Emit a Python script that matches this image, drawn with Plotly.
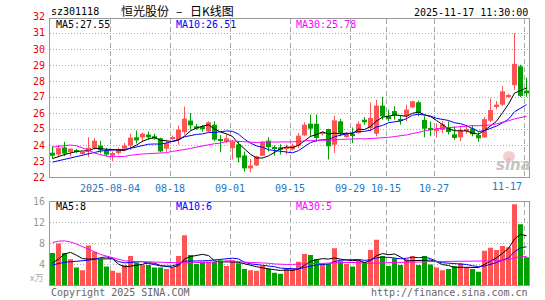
import numpy as np
import pandas as pd
import plotly.graph_objects as go

# ---------------- data ----------------
opens = [23.52, 23.40, 23.85, 23.56, 23.62, 23.48, 23.60, 23.81, 23.96, 23.65,
         23.33, 23.50, 23.77, 23.97, 24.48, 24.47, 24.65, 24.55, 24.42, 23.77,
         24.40, 24.33, 24.81, 25.53, 25.17, 25.17, 24.85, 25.27, 24.35, 24.20,
         23.81, 24.04, 23.35, 22.54, 22.72, 23.33, 24.27, 23.83, 23.85, 23.80,
         23.72, 23.96, 24.60, 25.33, 25.33, 24.71, 25.00, 24.02, 25.48, 24.50,
         24.70, 24.75, 25.58, 25.05, 24.71, 26.46, 25.79, 26.12, 25.62, 25.80,
         26.35, 26.67, 25.57, 25.06, 24.92, 24.95, 25.10, 24.67, 24.48, 24.92,
         25.03, 24.62, 24.48, 25.52, 26.37, 26.52, 27.05, 27.74, 28.92, 27.40]
highs = [23.92, 24.02, 24.20, 23.80, 23.75, 23.60, 24.48, 24.42, 24.27, 23.81,
         23.60, 23.85, 24.12, 24.70, 24.90, 24.78, 24.85, 24.70, 24.45, 24.33,
         24.60, 25.22, 26.40, 26.00, 25.31, 25.25, 25.48, 25.48, 24.62, 24.65,
         24.30, 24.23, 23.60, 23.13, 23.33, 24.27, 24.48, 23.98, 24.05, 24.02,
         24.10, 24.75, 25.42, 25.90, 25.90, 24.85, 25.02, 25.83, 25.62, 24.79,
         25.10, 25.48, 25.75, 26.65, 26.83, 27.02, 26.20, 26.42, 25.83, 26.52,
         26.77, 26.77, 25.79, 25.48, 25.35, 25.50, 25.48, 25.17, 25.16, 25.25,
         25.25, 24.80, 25.75, 26.90, 26.75, 27.67, 27.20, 31.00, 29.02, 28.20]
lows = [23.15, 23.23, 23.29, 23.30, 23.50, 23.40, 23.25, 23.72, 23.50, 23.29,
        22.98, 23.40, 23.62, 23.70, 24.10, 24.20, 24.33, 24.33, 23.55, 23.56,
        24.30, 24.02, 24.65, 24.96, 24.96, 24.85, 24.80, 24.23, 23.55, 24.13,
        23.10, 22.92, 22.35, 22.30, 22.69, 23.29, 23.60, 23.35, 23.40, 23.40,
        23.65, 23.81, 24.54, 24.50, 24.20, 24.60, 23.10, 23.50, 24.54, 24.44,
        24.12, 24.71, 25.27, 24.85, 24.54, 25.58, 25.48, 25.58, 25.27, 25.48,
        26.30, 25.79, 24.48, 24.54, 24.45, 24.75, 24.65, 24.33, 24.23, 24.70,
        24.55, 24.20, 24.45, 25.42, 26.22, 26.44, 26.95, 27.45, 27.00, 27.02]
closes = [23.33, 23.81, 23.46, 23.77, 23.58, 23.52, 23.83, 24.27, 23.67, 23.40,
          23.50, 23.75, 23.96, 24.46, 24.29, 24.71, 24.48, 24.40, 23.60, 24.12,
          24.45, 24.96, 25.65, 25.23, 25.02, 25.00, 25.42, 24.33, 24.30, 24.42,
          24.20, 23.21, 22.54, 22.72, 23.29, 24.18, 23.86, 23.79, 23.70, 23.87,
          23.96, 24.58, 25.27, 25.02, 24.44, 24.80, 23.92, 25.54, 24.75, 24.71,
          24.62, 25.33, 25.42, 25.69, 26.46, 25.79, 25.62, 25.85, 25.50, 26.21,
          26.73, 26.00, 25.02, 24.92, 25.00, 25.30, 24.81, 24.44, 24.89, 24.95,
          24.67, 24.42, 25.62, 26.18, 26.52, 27.35, 27.10, 29.07, 27.07, 27.23]
volumes = [6.2, 8.0, 6.2, 5.0, 3.4, 2.9, 7.6, 6.4, 5.0, 3.6,
           2.8, 2.4, 3.9, 5.6, 4.3, 3.9, 3.9, 3.4, 3.4, 3.1,
           3.4, 5.6, 9.6, 5.8, 4.1, 4.5, 4.5, 4.5, 4.8, 3.7,
           4.8, 4.2, 3.1, 2.9, 2.8, 3.7, 3.1, 2.4, 2.2, 3.25,
           3.25, 4.5, 6.0, 5.8, 5.0, 4.2, 4.1, 7.1, 4.6, 4.1,
           3.6, 4.8, 4.5, 6.75, 8.7, 5.6, 3.7, 5.2, 3.9, 5.0,
           5.6, 3.9, 5.6, 4.0, 3.4, 2.9, 3.1, 3.7, 4.2, 3.4,
           3.1, 2.6, 6.6, 7.2, 6.75, 7.5, 7.3, 15.5, 11.7, 5.35]

# moving-average values at the left edge (earlier history not on the chart)
ma5_head = [23.15, 23.30, 23.40, 23.50]
ma10_head = [22.93, 23.02, 23.10, 23.17, 23.27, 23.36, 23.46, 23.55, 23.62]
ma30_head = [23.87, 23.90, 23.97, 24.00, 23.95, 23.83, 23.68, 23.50, 23.40, 23.30,
             23.27, 23.26, 23.28, 23.36, 23.42, 23.44, 23.46, 23.47, 23.50, 23.52,
             23.60, 23.65, 23.70, 23.78, 23.87, 23.95, 24.03, 24.08, 24.12]
vma5_head = [4.3, 5.0, 6.0, 6.3]
vma10_head = [3.9, 4.2, 4.4, 4.5, 4.6, 4.6, 4.8, 5.0, 5.3]
vma30_head = [8.2, 8.45, 8.5, 8.3, 7.9, 7.4, 6.9, 6.3, 5.9, 5.6,
              5.3, 5.0, 4.7, 4.6, 4.55, 4.5, 4.45, 4.4, 4.35, 4.33,
              4.32, 4.3, 4.3, 4.3, 4.32, 4.35, 4.4, 4.45, 4.5]

tick_idx = [10, 20, 30, 40, 50, 56, 64, 79]
tick_text = ["2025-08-04", "08-18", "09-01", "09-15", "09-29", "10-15", "10-27", "11-17"]
price_ticks = [22, 23, 24, 25, 26, 27, 28, 29, 30, 31, 32]
vol_ticks = [4, 8, 12, 16]

stock_code = "sz301118"
title_parts = ["恒光股份", "–", "日K线图"]
time_text = "2025-11-17 11:30:00"
price_ma_labels = ["MA5:27.55", "MA10:26.51", "MA30:25.78"]
vol_ma_labels = ["MA5:8", "MA10:6", "MA30:5"]
ma_colors = ["#000000", "#0000ff", "#ff00ff"]

# ---------------- helpers ----------------
W, H = 545, 300
PX_L, PX_R = 50, 529
P_TOP, P_BOT = 19, 177
V_TOP, V_BOT = 201.7, 285.3
P_MIN = 22.0
P_MAX = P_MIN + (P_BOT - P_TOP) / 16.0
V_MIN, V_MAX = 0, 16
X0, X1 = -5 / 12, 79 + 5 / 12

UP, DOWN = "#ff5454", "#00a000"
MONO = "DejaVu Sans Mono"
CJK = "Noto Sans CJK SC"
XLAB = "#1a78c8"


def fx(p):
    return p / W


def fy(p):
    return 1 - p / H


def ma(vals, w, head):
    s = pd.Series(vals, dtype=float).rolling(w).mean().to_numpy()
    s[:len(head)] = head
    return s


n = len(closes)
idx = np.arange(n)
o = np.array(opens)
c = np.array(closes)
hi = np.array(highs)
lo = np.array(lows)
v = np.array(volumes)
colors = [UP if cc >= oo else DOWN for oo, cc in zip(o, c)]

body_base = np.minimum(o, c)
body_h = np.abs(c - o)
min_h = 1.0 / 16
adj = body_h < min_h
body_base = np.where(adj, (o + c) / 2 - min_h / 2, body_base)
body_h = np.where(adj, min_h, body_h)

fig = go.Figure()

# wicks
fig.add_trace(go.Bar(x=idx, base=lo, y=hi - lo, width=1 / 6, marker=dict(color=colors, line=dict(width=0)),
                     xaxis="x", yaxis="y", hoverinfo="skip"))
# bodies
fig.add_trace(go.Bar(x=idx, base=body_base, y=body_h, width=5 / 6, marker=dict(color=colors, line=dict(width=0)),
                     xaxis="x", yaxis="y", hoverinfo="skip"))

for w, head, col in zip([5, 10, 30], [ma5_head, ma10_head, ma30_head], ma_colors):
    fig.add_trace(go.Scatter(x=idx, y=ma(closes, w, head), mode="lines", line=dict(color=col, width=1),
                             xaxis="x", yaxis="y", hoverinfo="skip"))

# volume
fig.add_trace(go.Bar(x=idx, y=v, width=5 / 6, marker=dict(color=colors, line=dict(width=0)),
                     xaxis="x2", yaxis="y2", hoverinfo="skip"))
for w, head, col in zip([5, 10, 30], [vma5_head, vma10_head, vma30_head], ma_colors):
    fig.add_trace(go.Scatter(x=idx, y=ma(volumes, w, head), mode="lines", line=dict(color=col, width=1),
                             xaxis="x2", yaxis="y2", hoverinfo="skip"))

grid_x = [i - 5 / 12 for i in tick_idx]
axis_ticktext = tick_text[:-1] + [""]
axis_common = dict(showline=True, mirror=True, linecolor="#999999", linewidth=1, zeroline=False, ticks="",
                   fixedrange=True)

annotations = []


def ann(text, x, y, xanchor="left", color="#000000", size=10, family=MONO):
    annotations.append(dict(text=text, x=fx(x), y=fy(y), xref="paper", yref="paper", xanchor=xanchor,
                            yanchor="middle", showarrow=False, font=dict(family=family, size=size, color=color)))


# price tick labels
for t in price_ticks:
    ypix = P_BOT - (t - P_MIN) * 16.0
    ann(str(t), 46.5, ypix, xanchor="right", color="#ee0000", size=10)
# volume tick labels
for t in vol_ticks:
    ypix = V_BOT - (t - V_MIN) / (V_MAX - V_MIN) * (V_BOT - V_TOP)
    ann(str(t), 46.5, ypix, xanchor="right", color="#999999", size=10)
ann("x万", 45, 277, xanchor="right", color="#aaaaaa", size=9, family=CJK)
# last date label sits inside the right edge
ann(tick_text[-1], 524, 186, xanchor="right", color=XLAB)

ann(stock_code, 49, 11.5)
ann(title_parts[0], 119, 11, family=CJK, size=12)
ann(title_parts[1], 178.5, 11, xanchor="center", family=CJK, size=12)
ann(title_parts[2], 188, 11, family=CJK, size=12)
ann(time_text, 530, 12, xanchor="right")
for lab, col, xx in zip(price_ma_labels, ma_colors, [54, 174, 294]):
    ann(lab, xx, 24.5, color=col)
for lab, col, xx in zip(vol_ma_labels, ma_colors, [54, 174, 294]):
    ann(lab, xx, 206.5, color=col)
ann("Copyright 2025 SINA.COM", 49, 292.5, color="#666666")
ann("http://finance.sina.com.cn", 530, 292.5, xanchor="right", color="#666666")
# sina watermark
annotations.append(dict(text="<b><i>sina</i></b>", x=fx(513), y=fy(165), xref="paper", yref="paper",
                        xanchor="center", yanchor="middle", showarrow=False,
                        font=dict(family="DejaVu Sans", size=15, color="#c4c4c4")))

shapes = [dict(type="circle", xref="paper", yref="paper", x0=fx(503), x1=fx(515), y0=fy(162), y1=fy(151),
               fillcolor="rgba(235,110,110,0.35)", line=dict(width=0), layer="above")]

fig.update_layout(
    width=W, height=H, margin=dict(l=0, r=0, t=0, b=0),
    paper_bgcolor="white", plot_bgcolor="white", showlegend=False, barmode="overlay",
    hovermode=False,
    xaxis=dict(domain=[fx(PX_L), fx(PX_R)], range=[X0, X1], anchor="y", tickvals=grid_x, ticktext=axis_ticktext,
               showgrid=True, gridcolor="#aaaaaa", griddash="5px,3px", gridwidth=1,
               tickfont=dict(family=MONO, size=10, color=XLAB), ticklabelstandoff=2, **axis_common),
    yaxis=dict(domain=[fy(P_BOT), fy(P_TOP)], range=[P_MIN, P_MAX], anchor="x",
               tickvals=price_ticks[1:-1], showticklabels=False, showgrid=True, gridcolor="#aaaaaa",
               griddash="1px,2px", gridwidth=1, **axis_common),
    xaxis2=dict(domain=[fx(PX_L), fx(PX_R)], range=[X0, X1], anchor="y2", tickvals=grid_x,
                showticklabels=False, showgrid=True, gridcolor="#aaaaaa", griddash="5px,3px", gridwidth=1,
                **axis_common),
    yaxis2=dict(domain=[fy(V_BOT), fy(V_TOP)], range=[V_MIN, V_MAX], anchor="x2",
                tickvals=vol_ticks[:-1], showticklabels=False, showgrid=True, gridcolor="#aaaaaa",
                griddash="1px,2px", gridwidth=1, **axis_common),
    annotations=annotations, shapes=shapes,
)

fig.write_html("out.html")
